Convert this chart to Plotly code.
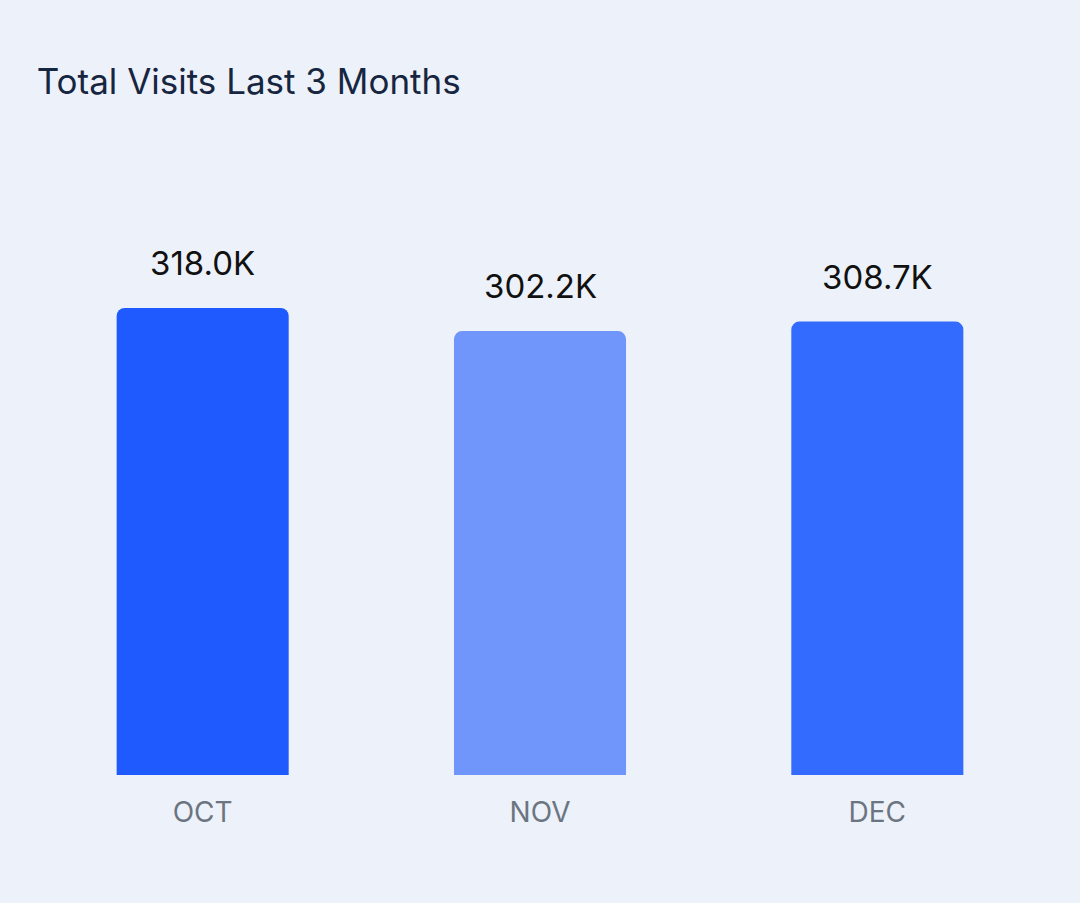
import plotly.graph_objects as go

# Total visits per month, in thousands
months = ["OCT", "NOV", "DEC"]
visits_k = [318.0, 302.2, 308.7]
bar_colors = ["#1f5aff", "#7196fb", "#346bff"]

BG = "#edf1f9"

fig = go.Figure()

fig.add_trace(
    go.Bar(
        x=months,
        y=visits_k,
        width=0.51,
        marker=dict(color=bar_colors, line=dict(width=0), cornerradius=8),
        hoverinfo="skip",
        showlegend=False,
    )
)

# Value labels above bars
for m, v in zip(months, visits_k):
    fig.add_annotation(
        x=m, y=v,
        text=f"{v:.1f}K",
        showarrow=False,
        yanchor="bottom",
        yshift=23,
        font=dict(family="Inter, Roboto, sans-serif", size=33, color="#111111"),
    )

fig.update_layout(
    width=1080,
    height=903,
    paper_bgcolor=BG,
    plot_bgcolor=BG,
    margin=dict(l=34, r=34, t=150, b=128),
    title=dict(
        text="Total Visits Last 3 Months",
        x=0.034, xanchor="left",
        y=0.909, yanchor="middle",
        font=dict(family="Inter, Lato, sans-serif", size=35, color="#172640"),
    ),
    bargap=0.49,
)

fig.update_xaxes(
    showgrid=False, zeroline=False, showline=False,
    ticks="", ticklabelstandoff=18,
    tickfont=dict(family="Inter, Roboto, sans-serif", size=28, color="#6b7581"),
)
fig.update_yaxes(
    range=[0, 425.5], visible=False, showgrid=False, zeroline=False,
)

# drop the default page margin so the chart fills the window
fig.write_html(
    "out.html",
    config={"displayModeBar": False},
    post_script="document.body.style.margin='0';",
)
